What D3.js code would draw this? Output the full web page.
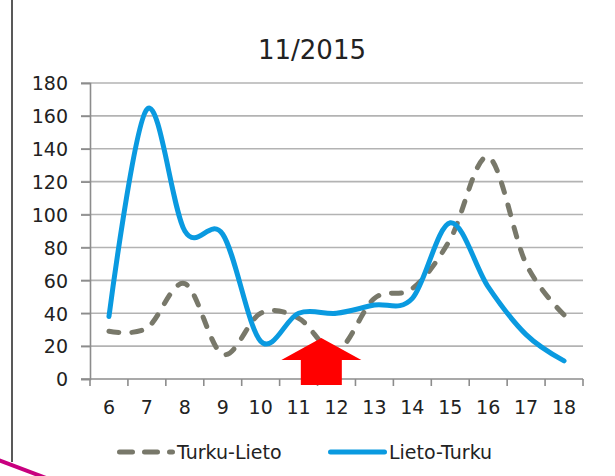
<!DOCTYPE html>
<html>
<head>
<meta charset="utf-8">
<script src="https://cdn.jsdelivr.net/npm/d3@7"></script>
<style>
  body { margin: 0; background: #fff; }
  svg { display: block; }
  text { font-family: "DejaVu Sans", Verdana, sans-serif; fill: #222; }
</style>
</head>
<body>
<div id="chart"></div>
<script>
// categories (hours) and series values
const hours = ['6', '7', '8', '9', '10', '11', '12', '13', '14', '15', '16', '17', '18'];
const turkuLieto = [29, 31, 58, 15, 40, 37, 17, 49, 55, 85, 135, 70, 39];
const lietoTurku = [38, 164, 90, 88, 23, 40, 40, 45, 49, 95, 56, 27, 11];
const yTicks = [0, 20, 40, 60, 80, 100, 120, 140, 160, 180];
const title = '11/2015';

const width = 615, height = 476;
const margin = { top: 83, right: 32, bottom: 97, left: 90 };

const svg = d3.select('#chart').append('svg')
    .attr('width', width)
    .attr('height', height);

svg.append('rect').attr('width', width).attr('height', height).attr('fill', '#fff');

// slide decorations
svg.append('line')
    .attr('x1', 12).attr('x2', 12).attr('y1', 0).attr('y2', 462)
    .attr('stroke', '#222').attr('stroke-width', 1.5);
svg.append('line')
    .attr('x1', -4).attr('y1', 459).attr('x2', 46).attr('y2', 478)
    .attr('stroke', '#c8007f').attr('stroke-width', 4);

const x = d3.scaleBand()
    .domain(hours)
    .range([margin.left, width - margin.right]);

const y = d3.scaleLinear()
    .domain([0, 180])
    .range([height - margin.bottom, margin.top]);

const cx = d => x(d) + x.bandwidth() / 2;

// gridlines
svg.append('g')
    .selectAll('line')
    .data(yTicks)
    .join('line')
    .attr('x1', margin.left - 9)
    .attr('x2', width - margin.right)
    .attr('y1', d => y(d))
    .attr('y2', d => y(d))
    .attr('stroke', d => d === 0 ? '#8c8c8c' : '#b3b3b3')
    .attr('stroke-width', 1.6);

// y axis
const yAxisG = svg.append('g')
    .attr('transform', `translate(${margin.left},0)`)
    .call(d3.axisLeft(y).tickValues(yTicks).tickSize(9).tickPadding(13));
yAxisG.select('.domain').attr('stroke', '#8c8c8c').attr('stroke-width', 1.6);
yAxisG.selectAll('.tick line').attr('stroke', '#8c8c8c').attr('stroke-width', 1.6);
yAxisG.selectAll('text')
    .attr('font-size', 19)
    .attr('font-family', '"DejaVu Sans", Verdana, sans-serif')
    .attr('fill', '#222')
    .attr('dy', '0.36em');

// x axis tick marks at band boundaries
const bounds = hours.map(h => x(h)).concat([x(hours[hours.length - 1]) + x.bandwidth()]);
svg.append('g')
    .selectAll('line')
    .data(bounds)
    .join('line')
    .attr('x1', d => d).attr('x2', d => d)
    .attr('y1', y(0)).attr('y2', y(0) + 7)
    .attr('stroke', '#8c8c8c').attr('stroke-width', 1.6);

svg.append('g')
    .selectAll('text')
    .data(hours)
    .join('text')
    .attr('x', d => cx(d))
    .attr('y', y(0) + 35)
    .attr('text-anchor', 'middle')
    .attr('font-size', 19)
    .text(d => d);

// title
svg.append('text')
    .attr('x', 312)
    .attr('y', 59)
    .attr('text-anchor', 'middle')
    .attr('font-size', 26)
    .attr('fill', '#111')
    .text(title);

// lines (Excel style smoothing)
const line = d3.line()
    .x((d, i) => cx(hours[i]))
    .y(d => y(d))
    .curve(d3.curveCardinal.tension(0));

svg.append('path')
    .datum(turkuLieto)
    .attr('d', line)
    .attr('fill', 'none')
    .attr('stroke', '#78786a')
    .attr('stroke-width', 5)
    .attr('stroke-linecap', 'round')
    .attr('stroke-dasharray', '10,13');

svg.append('path')
    .datum(lietoTurku)
    .attr('d', line)
    .attr('fill', 'none')
    .attr('stroke', '#0a9ae0')
    .attr('stroke-width', 5)
    .attr('stroke-linecap', 'round')
    .attr('stroke-linejoin', 'round');

// red arrow between hours 11 and 12
const ax = x('11') + x.bandwidth() * 1.1;
const arrow = [
    [ax, y(25)],
    [ax + 40, y(11.5)],
    [ax + 20.5, y(11.5)],
    [ax + 20.5, y(0) + 6],
    [ax - 20.5, y(0) + 6],
    [ax - 20.5, y(11.5)],
    [ax - 40, y(11.5)]
];
svg.append('path')
    .attr('d', d3.line()(arrow) + 'Z')
    .attr('fill', '#ff0000');

// legend
const legendY = 452;
const lg = svg.append('g');
lg.append('line')
    .attr('x1', 119.5).attr('x2', 172.5).attr('y1', legendY).attr('y2', legendY)
    .attr('stroke', '#78786a').attr('stroke-width', 5)
    .attr('stroke-linecap', 'round').attr('stroke-dasharray', '13,12');
lg.append('text')
    .attr('x', 177).attr('y', legendY).attr('dy', '0.36em')
    .attr('font-size', 19)
    .text('Turku-Lieto');
lg.append('line')
    .attr('x1', 330.5).attr('x2', 384.5).attr('y1', legendY).attr('y2', legendY)
    .attr('stroke', '#0a9ae0').attr('stroke-width', 5)
    .attr('stroke-linecap', 'round');
lg.append('text')
    .attr('x', 389).attr('y', legendY).attr('dy', '0.36em')
    .attr('font-size', 19)
    .text('Lieto-Turku');
</script>
</body>
</html>
